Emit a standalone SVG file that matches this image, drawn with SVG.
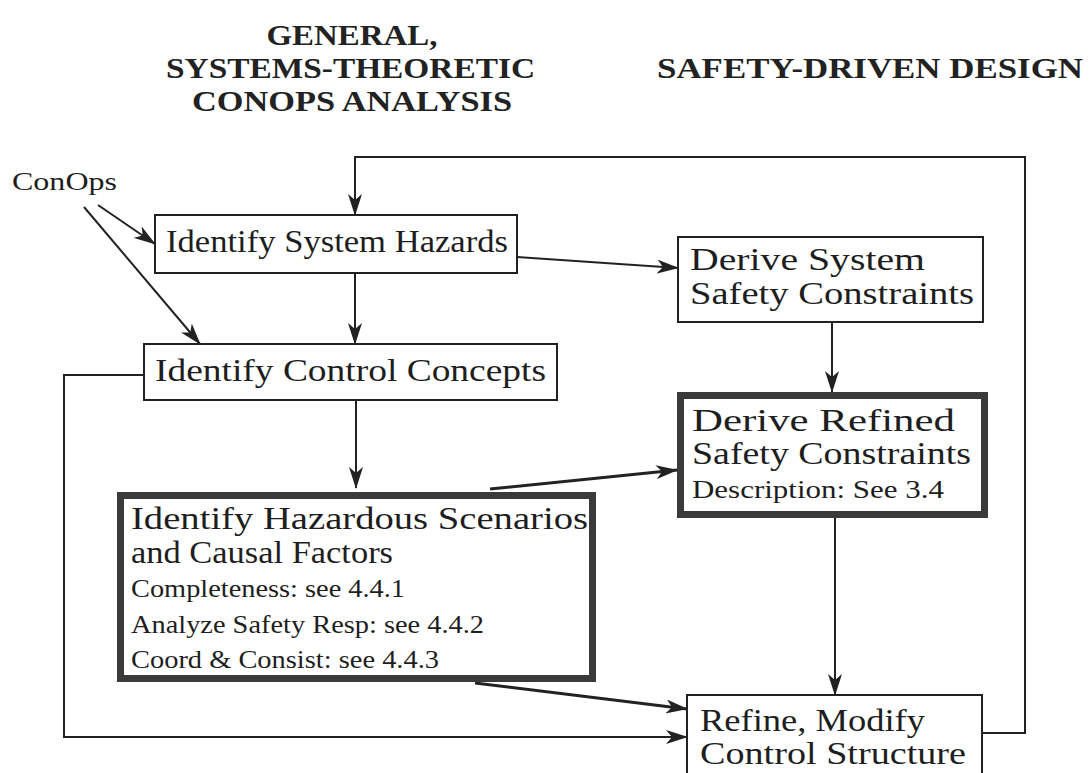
<svg xmlns="http://www.w3.org/2000/svg" width="1089" height="773" viewBox="0 0 1089 773">
<style>
.title{font-family:"Liberation Serif",serif;font-weight:bold;font-size:30px;fill:#222}
.t{font-family:"Liberation Serif",serif;font-size:32px;fill:#1e1e1e}
.s{font-family:"Liberation Serif",serif;font-size:26px;fill:#1e1e1e}
.box{fill:#fff;stroke:#222;stroke-width:2}
.thick{fill:#fff;stroke:#3a3a3a;stroke-width:7}
.c{fill:none;stroke:#222;stroke-width:2}
.c3{fill:none;stroke:#222;stroke-width:3}
</style>
<defs>
<marker id="ah" markerUnits="userSpaceOnUse" markerWidth="22" markerHeight="14" viewBox="0 0 22 14" refX="21" refY="7" orient="auto">
<path d="M0,0 L22,7 L0,14 L6,7 z" fill="#222"/>
</marker>
</defs>
<rect width="1089" height="773" fill="#fff"/>
<g id="titles">
<text class="title" x="352" y="45" text-anchor="middle" textLength="171" lengthAdjust="spacingAndGlyphs">GENERAL,</text>
<text class="title" x="166" y="78" textLength="369" lengthAdjust="spacingAndGlyphs">SYSTEMS-THEORETIC</text>
<text class="title" x="192" y="111" textLength="320" lengthAdjust="spacingAndGlyphs">CONOPS ANALYSIS</text>
<text class="title" x="657" y="78" textLength="426" lengthAdjust="spacingAndGlyphs">SAFETY-DRIVEN DESIGN</text>
</g>
<g id="connectors">
<polyline class="c" points="982,733 1025,733 1025,157 355,157 355,215" marker-end="url(#ah)"/>
<line class="c" x1="98" y1="205" x2="155" y2="244" marker-end="url(#ah)"/>
<line class="c" x1="84" y1="207" x2="200" y2="344" marker-end="url(#ah)"/>
<line class="c" x1="355" y1="273" x2="355" y2="344" marker-end="url(#ah)"/>
<line class="c" x1="517" y1="257" x2="678" y2="268" marker-end="url(#ah)"/>
<line class="c" x1="832" y1="322" x2="832" y2="392" marker-end="url(#ah)"/>
<line class="c" x1="356" y1="400" x2="356" y2="488" marker-end="url(#ah)"/>
<line class="c3" x1="490" y1="489" x2="677" y2="470" marker-end="url(#ah)"/>
<line class="c" x1="835" y1="518" x2="835" y2="695" marker-end="url(#ah)"/>
<line class="c3" x1="475" y1="683" x2="687" y2="709" marker-end="url(#ah)"/>
<polyline class="c" points="144,375 64,375 64,737 687,737" marker-end="url(#ah)"/>
</g>
<g id="conops">
<text class="s" x="12" y="190" textLength="105" lengthAdjust="spacingAndGlyphs">ConOps</text>
</g>
<g id="hazards">
<rect class="box" x="155" y="215" width="362" height="58"/>
<text class="t" x="166" y="252" textLength="342" lengthAdjust="spacingAndGlyphs">Identify System Hazards</text>
</g>
<g id="control-concepts">
<rect class="box" x="144" y="344" width="413" height="56"/>
<text class="t" x="155" y="381" textLength="391" lengthAdjust="spacingAndGlyphs">Identify Control Concepts</text>
</g>
<g id="derive-system">
<rect class="box" x="678" y="237" width="305" height="85"/>
<text class="t" x="690" y="270" textLength="235" lengthAdjust="spacingAndGlyphs">Derive System</text>
<text class="t" x="690" y="304" textLength="284" lengthAdjust="spacingAndGlyphs">Safety Constraints</text>
</g>
<g id="derive-refined">
<rect class="thick" x="680.5" y="395.5" width="304" height="119"/>
<text class="t" x="692" y="431" textLength="263" lengthAdjust="spacingAndGlyphs">Derive Refined</text>
<text class="t" x="692" y="464" textLength="279" lengthAdjust="spacingAndGlyphs">Safety Constraints</text>
<text class="s" x="692" y="498" textLength="252" lengthAdjust="spacingAndGlyphs">Description: See 3.4</text>
</g>
<g id="hazardous-scenarios">
<rect class="thick" x="120.5" y="495.5" width="472" height="183"/>
<text class="t" x="131" y="529" textLength="457" lengthAdjust="spacingAndGlyphs">Identify Hazardous Scenarios</text>
<text class="t" x="131" y="563" textLength="262" lengthAdjust="spacingAndGlyphs">and Causal Factors</text>
<text class="s" x="131" y="597" textLength="274" lengthAdjust="spacingAndGlyphs">Completeness: see 4.4.1</text>
<text class="s" x="131" y="633" textLength="353" lengthAdjust="spacingAndGlyphs">Analyze Safety Resp: see 4.4.2</text>
<text class="s" x="131" y="668" textLength="308" lengthAdjust="spacingAndGlyphs">Coord &amp; Consist: see 4.4.3</text>
</g>
<g id="refine">
<rect class="box" x="687" y="695" width="295" height="90"/>
<text class="t" x="700" y="731" textLength="225" lengthAdjust="spacingAndGlyphs">Refine, Modify</text>
<text class="t" x="700" y="764" textLength="266" lengthAdjust="spacingAndGlyphs">Control Structure</text>
</g>
</svg>
